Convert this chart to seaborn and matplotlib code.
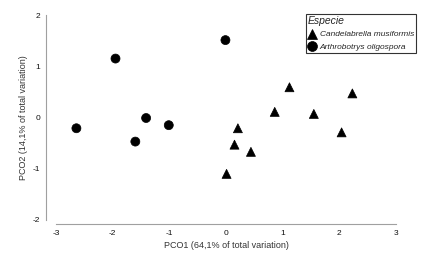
import matplotlib
matplotlib.use("Agg")
import matplotlib.pyplot as plt
import seaborn as sns
import pandas as pd

sns.set_style("white")
plt.rcParams['font.family'] = ['Liberation Sans', 'DejaVu Sans']

species_a = "Candelabrella musiformis"
species_b = "Arthrobotrys oligospora"

tri_x = [0.01, 0.15, 0.21, 0.44, 0.86, 1.12, 1.55, 2.04, 2.23]
tri_y = [-1.10, -0.53, -0.21, -0.67, 0.11, 0.59, 0.07, -0.29, 0.47]
circ_x = [-2.64, -1.95, -1.60, -1.41, -1.01, -0.01]
circ_y = [-0.21, 1.15, -0.47, -0.01, -0.15, 1.51]

df = pd.DataFrame({
    "PCO1": tri_x + circ_x,
    "PCO2": tri_y + circ_y,
    "Especie": [species_a] * len(tri_x) + [species_b] * len(circ_x),
})

fig = plt.figure(figsize=(4.23, 2.57), dpi=100)
ax = fig.add_axes([56/423, 1-220/257, (396-56)/423, (220-15)/257])

sns.scatterplot(data=df, x="PCO1", y="PCO2", style="Especie",
                style_order=[species_a, species_b],
                markers={species_a: "^", species_b: "o"},
                color="black", s=42, edgecolor="black", linewidth=0.5,
                ax=ax, clip_on=False)

ax.set_xlim(-3, 3)
ax.set_ylim(-2, 2)
ax.set_xticks([-3, -2, -1, 0, 1, 2, 3])
ax.set_yticks([-2, -1, 0, 1, 2])
ax.set_xticklabels(["-3", "-2", "-1", "0", "1", "2", "3"])
ax.set_yticklabels(["-2", "-1", "0", "1", "2"])

for side in ["top", "right"]:
    ax.spines[side].set_visible(False)
ax.spines["left"].set_position(("outward", 7))
ax.spines["bottom"].set_position(("outward", 3))
for side in ["left", "bottom"]:
    ax.spines[side].set_color("#a0a0a0")
    ax.spines[side].set_linewidth(0.8)
ax.tick_params(axis="both", which="major", length=3, width=0.6, color="#555555",
               labelsize=6, pad=1.5, labelcolor="#111111")
ax.tick_params(axis="y", direction="out")
ax.tick_params(axis="x", direction="inout", length=5)

ax.set_xlabel("PCO1 (64,1% of total variation)", fontsize=6.5, color="#333333", labelpad=3)
ax.set_ylabel("PCO2 (14,1% of total variation)", fontsize=6.5, color="#333333", labelpad=3)

leg = ax.legend(title="Especie", loc="upper left", bbox_to_anchor=(306/423, 1-14/257),
                bbox_transform=fig.transFigure, frameon=True, fancybox=False,
                fontsize=6, title_fontsize=7.5, borderpad=0.25, handletextpad=0.4,
                handlelength=1.0, labelspacing=0.55, borderaxespad=0, markerscale=1.1)
leg._legend_box.align = "left"
leg.get_frame().set_edgecolor("black")
leg.get_frame().set_linewidth(0.8)
leg.get_title().set_style("italic")
for t in leg.get_texts():
    t.set_style("italic")

fig.savefig("out.png", dpi=100)
